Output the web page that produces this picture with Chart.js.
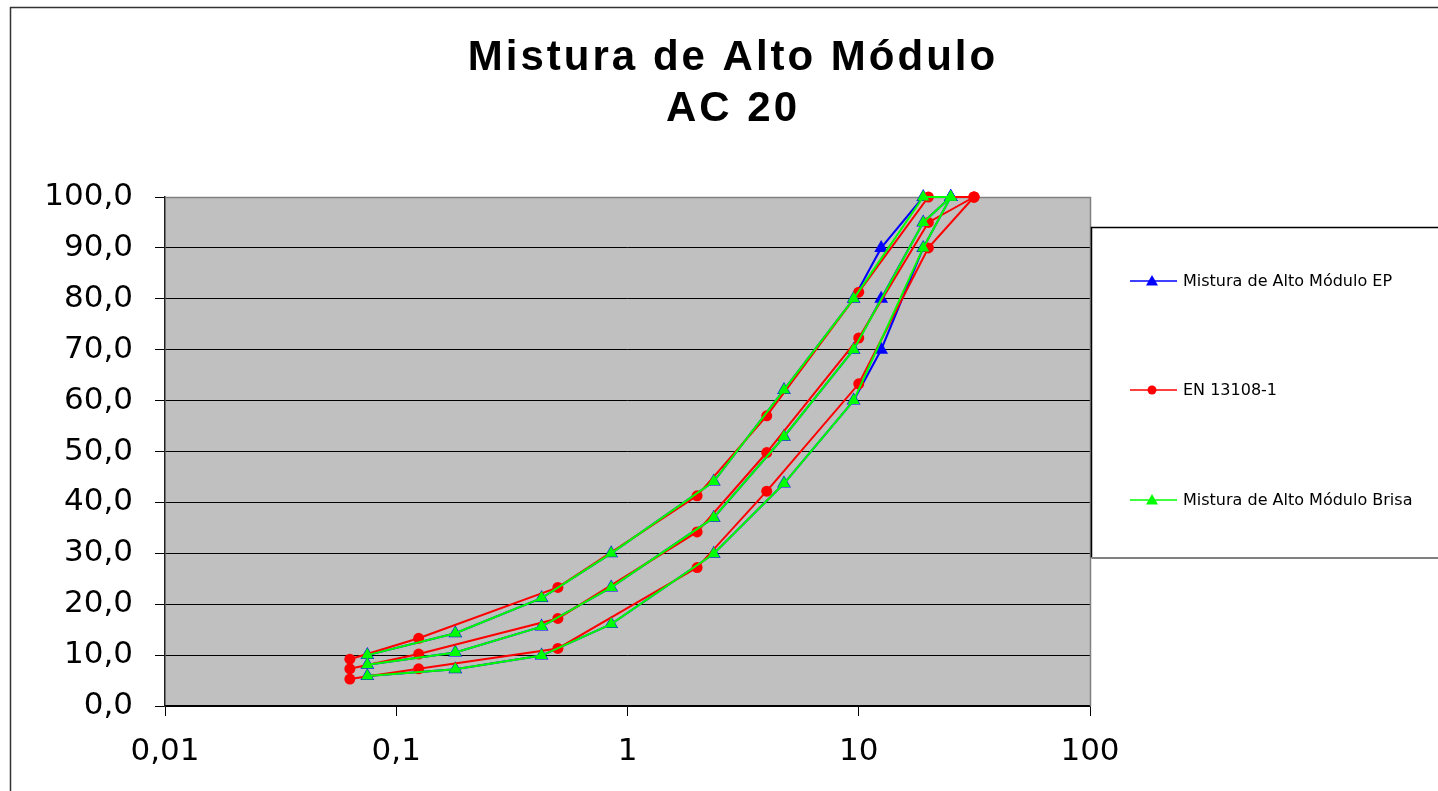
<!DOCTYPE html>
<html>
<head>
<meta charset="utf-8">
<script src="https://cdn.jsdelivr.net/npm/chart.js@4.4.1/dist/chart.umd.min.js"></script>
<style>
  body { margin: 0; background: #fff; }
</style>
</head>
<body>
<canvas id="miGrafico" width="1438" height="791"></canvas>
<script>
// peneiros (mm)
const sievesEP = [0.075, 0.18, 0.425, 0.85, 2.36, 4.75, 9.5, 12.5, 19, 25];
const sievesBrisa = [0.075, 0.18, 0.425, 0.85, 2.36, 4.75, 9.5, 19, 25];
const sievesEN = [0.063, 0.125, 0.5, 2, 4, 10, 20, 31.5];

// Mistura de Alto Modulo EP
const epSuperior = [10.0, 14.3, 21.2, 30.0, 44.1, 62.1, 80.0, 90.0, 100, 100];
const epMedio = [8.1, 10.5, 15.6, 23.3, 37.0, 52.9, 70.0, 80.0, 95.0, 100];
const epInferior = [5.9, 7.2, 9.9, 16.1, 29.9, 43.7, 60.0, 70.0, 90.0, 100];

// EN 13108-1
const enSuperior = [9.2, 13.3, 23.3, 41.3, 57.0, 81.3, 100, 100];
const enMedio = [7.3, 10.2, 17.2, 34.2, 49.8, 72.3, 95.0, 100];
const enInferior = [5.3, 7.3, 11.3, 27.2, 42.2, 63.3, 90.0, 100];

// Mistura de Alto Modulo Brisa
const brisaSuperior = [10.0, 14.3, 21.2, 30.0, 44.1, 62.1, 80.0, 100, 100];
const brisaMedio = [8.1, 10.5, 15.6, 23.3, 37.0, 52.9, 70.0, 95.0, 100];
const brisaInferior = [5.9, 7.2, 9.9, 16.1, 29.9, 43.7, 60.0, 90.0, 100];

const xTicks = [0.01, 0.1, 1, 10, 100];
const yTicks = [0, 10, 20, 30, 40, 50, 60, 70, 80, 90, 100];
const tituloLinhas = ['Mistura de Alto Módulo', 'AC 20'];

const series = [
  { label: 'Mistura de Alto Módulo EP', color: '#0000FF', style: 'triangle', radius: 8, x: sievesEP, curves: [epSuperior, epMedio, epInferior] },
  { label: 'EN 13108-1', color: '#FF0000', style: 'circle', radius: 5.5, x: sievesEN, curves: [enSuperior, enMedio, enInferior] },
  { label: 'Mistura de Alto Módulo Brisa', color: '#00FF00', style: 'triangle', radius: 7, x: sievesBrisa, curves: [brisaSuperior, brisaMedio, brisaInferior] }
];

function pares(xs, ys) {
  return xs.map((x, i) => ({ x: x, y: ys[i] }));
}

// green drawn on top, blue at the bottom (index 0 is drawn last)
let datasets = [];
[2, 1, 0].forEach(function (s) {
  let ser = series[s];
  ser.curves.forEach(function (c) {
    datasets.push({
      label: ser.label,
      data: pares(ser.x, c),
      showLine: true,
      clip: false,
      borderColor: ser.color,
      backgroundColor: ser.color,
      borderWidth: 2,
      pointStyle: ser.style,
      pointRadius: ser.radius,
      pointBorderWidth: 0,
      pointHoverRadius: ser.radius
    });
  });
});

function virgula(v) {
  return String(v).replace('.', ',');
}

const fundoPlugin = {
  id: 'fundo',
  beforeDraw(chart) {
    const ctx = chart.ctx;
    const a = chart.chartArea;
    ctx.save();
    ctx.fillStyle = '#fff';
    ctx.fillRect(0, 0, chart.width, chart.height);
    // moldura exterior
    ctx.strokeStyle = '#333';
    ctx.lineWidth = 1.5;
    ctx.beginPath();
    ctx.moveTo(10.5, chart.height + 2);
    ctx.lineTo(10.5, 7.5);
    ctx.lineTo(chart.width + 2, 7.5);
    ctx.stroke();
    ctx.fillStyle = '#C0C0C0';
    ctx.fillRect(a.left, a.top, a.right - a.left, a.bottom - a.top);
    ctx.restore();
  },
  beforeDatasetsDraw(chart) {
    const ctx = chart.ctx;
    const a = chart.chartArea;
    ctx.save();
    ctx.strokeStyle = '#808080';
    ctx.lineWidth = 1.5;
    ctx.beginPath();
    ctx.moveTo(a.left, a.top + 0.5);
    ctx.lineTo(a.right + 0.5, a.top + 0.5);
    ctx.lineTo(a.right + 0.5, a.bottom);
    ctx.stroke();
    ctx.restore();
  },
  afterDraw(chart) {
    const ctx = chart.ctx;
    ctx.save();
    // titulo
    ctx.fillStyle = '#000';
    ctx.font = 'bold 42px "Liberation Sans", Arial, sans-serif';
    ctx.textAlign = 'center';
    ctx.textBaseline = 'middle';
    if ('letterSpacing' in ctx) ctx.letterSpacing = '3px';
    ctx.fillText(tituloLinhas[0], 733, 58);
    ctx.fillText(tituloLinhas[1], 733, 109);
    if ('letterSpacing' in ctx) ctx.letterSpacing = '0px';

    // legenda
    const bx = 1091.5, by = 227.5, bh = 330;
    ctx.fillStyle = '#fff';
    ctx.fillRect(bx, by, chart.width - bx + 2, bh);
    ctx.strokeStyle = '#000';
    ctx.lineWidth = 1.5;
    ctx.beginPath();
    ctx.moveTo(chart.width + 2, by);
    ctx.lineTo(bx, by);
    ctx.lineTo(bx, by + bh);
    ctx.stroke();
    ctx.strokeStyle = '#808080';
    ctx.lineWidth = 2;
    ctx.beginPath();
    ctx.moveTo(bx, by + bh + 0.5);
    ctx.lineTo(chart.width + 2, by + bh + 0.5);
    ctx.stroke();

    const linhasY = [281, 390, 500];
    ctx.font = '16px "DejaVu Sans", sans-serif';
    ctx.textAlign = 'left';
    series.forEach(function (ser, i) {
      const y = linhasY[i];
      ctx.strokeStyle = ser.color;
      ctx.lineWidth = 1.5;
      ctx.beginPath();
      ctx.moveTo(1130, y);
      ctx.lineTo(1177, y);
      ctx.stroke();
      ctx.fillStyle = ser.color;
      ctx.beginPath();
      if (ser.style === 'circle') {
        ctx.arc(1152, y, 4.5, 0, Math.PI * 2);
      } else {
        ctx.moveTo(1152, y - 6);
        ctx.lineTo(1158, y + 4.5);
        ctx.lineTo(1146, y + 4.5);
        ctx.closePath();
      }
      ctx.fill();
      ctx.fillStyle = '#000';
      ctx.fillText(ser.label, 1183, y + 1);
    });
    ctx.restore();
  }
};

const GRAFICO = document.getElementById('miGrafico');

let grafica = new Chart(GRAFICO, {
  type: 'scatter',
  data: { datasets: datasets },
  plugins: [fundoPlugin],
  options: {
    responsive: false,
    animation: false,
    layout: { padding: { left: 0, right: 348, top: 197, bottom: 0 } },
    plugins: {
      legend: { display: false },
      title: { display: false },
      tooltip: { enabled: false }
    },
    scales: {
      x: {
        type: 'logarithmic',
        min: 0.01,
        max: 100,
        afterBuildTicks: function (scale) {
          scale.ticks = xTicks.map(v => ({ value: v }));
        },
        afterFit: function (scale) {
          scale.height = 85;
        },
        grid: { drawOnChartArea: false, drawTicks: true, tickLength: 10, color: '#000' },
        border: { display: true, color: '#000', width: 1.5 },
        ticks: {
          autoSkip: false,
          maxRotation: 0,
          padding: 17,
          color: '#000',
          font: { family: '"DejaVu Sans", sans-serif', size: 31 },
          callback: function (value) {
            return virgula(value);
          }
        }
      },
      y: {
        min: 0,
        max: 100,
        afterBuildTicks: function (scale) {
          scale.ticks = yTicks.map(v => ({ value: v }));
        },
        afterFit: function (scale) {
          scale.width = 165;
        },
        grid: { color: '#000', lineWidth: 1, tickLength: 10 },
        border: { display: true, color: '#222', width: 1.5 },
        ticks: {
          padding: 22,
          color: '#000',
          font: { family: '"DejaVu Sans", sans-serif', size: 31 },
          callback: function (value) {
            return value.toFixed(1).replace('.', ',');
          }
        }
      }
    }
  }
});
</script>
</body>
</html>
